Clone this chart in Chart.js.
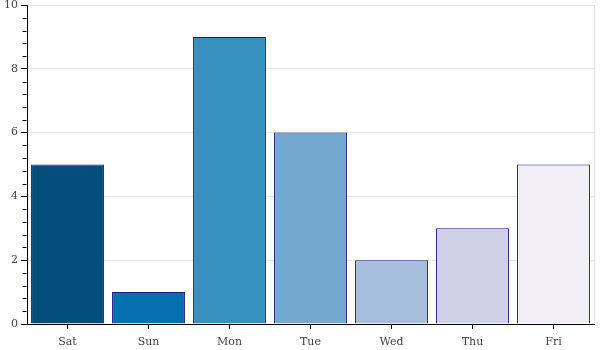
<!DOCTYPE html>
<html>
<head>
<meta charset="utf-8">
<script src="https://cdn.jsdelivr.net/npm/chart.js@4"></script>
<style>
  body { margin: 0; background: #fff; }
  #wrap { width: 600px; height: 350px; }
</style>
</head>
<body>
<div id="wrap"><canvas id="barChart" width="600" height="350"></canvas></div>
<script>
const days = ["Sat", "Sun", "Mon", "Tue", "Wed", "Thu", "Fri"];
const counts = [5, 1, 9, 6, 2, 3, 5];
const barColors = ["#034e7b", "#0570b0", "#3690c0", "#74a9cf", "#a6bddb", "#d0d1e6", "#f1eef6"];
const yTicks = [0, 2, 4, 6, 8, 10];

const axisFont = { family: "DejaVu Serif", size: 11 };
const labelColor = "#444";

// minor ticks on the y axis, plus the light frame edge on the right
const frameAndMinorTicks = {
  id: "frameAndMinorTicks",
  beforeDatasetsDraw(chart) {
    const { ctx, chartArea } = chart;
    ctx.save();
    ctx.strokeStyle = "#e5e5e5";
    ctx.lineWidth = 1;
    ctx.beginPath();
    ctx.moveTo(chartArea.right + 0.5, chartArea.top);
    ctx.lineTo(chartArea.right + 0.5, chartArea.bottom);
    ctx.stroke();
    ctx.restore();
  },
  afterDraw(chart) {
    const { ctx } = chart;
    const y = chart.scales.y;
    const x0 = Math.round(y.right) - 0.5;
    ctx.save();
    ctx.strokeStyle = "#000";
    ctx.lineWidth = 1;
    ctx.beginPath();
    for (let i = 0; i < yTicks.length - 1; i++) {
      const step = (yTicks[i + 1] - yTicks[i]) / 5;
      for (let k = 1; k < 5; k++) {
        const py = Math.round(y.getPixelForValue(yTicks[i] + k * step)) + 0.5;
        ctx.moveTo(x0 - 4, py);
        ctx.lineTo(x0, py);
      }
    }
    ctx.stroke();
    ctx.restore();
  }
};

new Chart(document.getElementById("barChart"), {
  type: "bar",
  data: {
    labels: days,
    datasets: [{
      data: counts,
      backgroundColor: barColors,
      borderColor: "#1a1a85",
      borderWidth: 1,
      borderSkipped: "start",
      barPercentage: 0.9,
      categoryPercentage: 1.0
    }]
  },
  options: {
    responsive: false,
    animation: false,
    layout: { padding: { top: 5, right: 6, left: 0, bottom: 0 } },
    plugins: {
      legend: { display: false },
      tooltip: { enabled: false }
    },
    scales: {
      x: {
        afterFit: (s) => { s.height = 26; s.paddingLeft = 0; s.paddingRight = 0; },
        grid: { drawOnChartArea: false, offset: false, tickLength: 5, color: "#000" },
        border: { color: "#000", width: 1 },
        ticks: { font: axisFont, color: labelColor, padding: 7 }
      },
      y: {
        min: 0,
        max: 10,
        afterFit: (s) => { s.width = 27; s.paddingTop = 0; s.paddingBottom = 0; },
        afterBuildTicks: (s) => { s.ticks = yTicks.map((v) => ({ value: v })); },
        grid: {
          color: (c) => (c.tick && c.tick.value === 0 ? "transparent" : "#e5e5e5"),
          tickColor: "#000",
          tickLength: 6
        },
        border: { color: "#000", width: 1 },
        ticks: { font: axisFont, color: labelColor, padding: 3 }
      }
    }
  },
  plugins: [frameAndMinorTicks]
});
</script>
</body>
</html>
